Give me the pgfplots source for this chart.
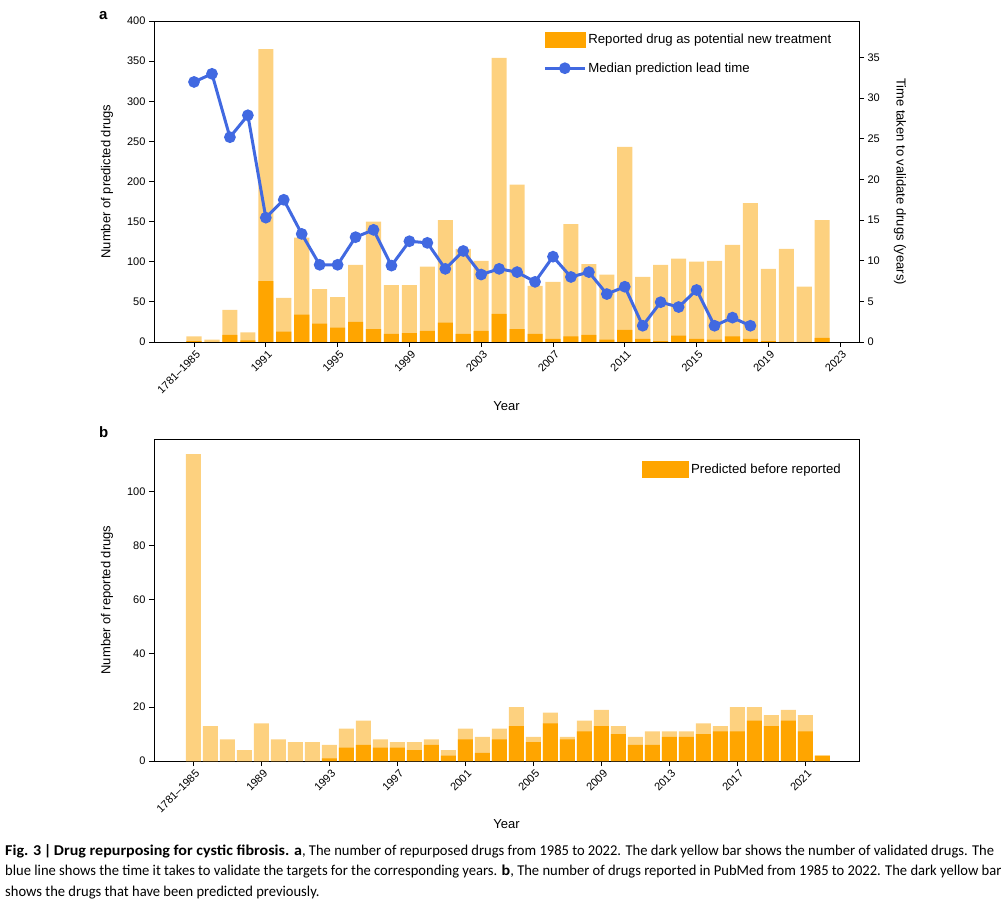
\documentclass[border=0pt]{standalone}
\usepackage{fontspec}
\setmainfont{Liberation Sans}
\newfontfamily\capfont[FakeStretch=0.97, BoldFeatures={FakeStretch=1.07}]{Carlito}
\usepackage{pgfplots}
\usepackage{pgfplotstable}
\pgfplotsset{compat=1.18}

\definecolor{darkbar}{RGB}{255,165,0}
\definecolor{lightbar}{RGB}{253,209,127}
\definecolor{leadblue}{RGB}{65,105,225}

% panel a: predicted drugs per year (total) and validated ones
\pgfplotstableread{
i total valid
0 7 1
1 3 0
2 40 9
3 12 2
4 365 76
5 55 13
6 130 34
7 66 23
8 56 18
9 96 25
10 150 16
11 71 10
12 71 11
13 94 14
14 152 24
15 116 10
16 101 14
17 354 35
18 196 16
19 70 10
20 75 4
21 147 7
22 97 9
23 84 3
24 243 15
25 81 4
26 96 1
27 104 8
28 100 4
29 101 3
30 121 7
31 173 4
32 91 1
33 116 0
34 69 0
35 152 5
}\panelA

% panel a: median prediction lead time (years)
\pgfplotstableread{
i lead
0 32.0
1 33.0
2 25.2
3 27.9
4 15.3
5 17.5
6 13.3
7 9.5
8 9.5
9 12.9
10 13.8
11 9.4
12 12.4
13 12.2
14 9.0
15 11.2
16 8.3
17 9.0
18 8.6
19 7.4
20 10.5
21 8.0
22 8.6
23 5.9
24 6.8
25 2.0
26 4.9
27 4.3
28 6.4
29 2.0
30 3.0
31 2.0
}\panelAline

% panel b: reported drugs and those predicted before
\pgfplotstableread{
i total pred
0 114 0
1 13 0
2 8 0
3 4 0
4 14 0
5 8 0
6 7 0
7 7 0
8 6 1
9 12 5
10 15 6
11 8 5
12 7 5
13 7 4
14 8 6
15 4 2
16 12 8
17 9 3
18 12 8
19 20 13
20 9 7
21 18 14
22 9 8
23 15 11
24 19 13
25 13 10
26 9 6
27 11 6
28 11 9
29 11 9
30 14 10
31 13 11
32 20 11
33 20 15
34 17 13
35 19 15
36 17 11
37 2 2
}\panelB

\pgfplotsset{
  panel/.style={
    scale only axis, width=705pt,
    axis line style={line width=0.9pt},
    tick style={black, line width=0.9pt},
    major tick length=5pt, tick align=outside,
    xtick pos=left, ytick pos=left,
    /pgf/number format/assume math mode=true,
    tick label style={font=\fontsize{11}{13}\selectfont},
    label style={font=\fontsize{13}{15}\selectfont},
    ymin=0, xtick={0,4,...,36},
    xticklabel style={rotate=45, anchor=north east, inner sep=1pt, yshift=-2pt},
  },
}

\begin{document}
\begin{tikzpicture}[x=1pt,y=1pt]
\path[use as bounding box] (0,0) rectangle (1002,903);

% ---- panel a ----
\begin{axis}[panel, height=321pt, at={(154pt,561pt)}, anchor=south west,
    xmin=-2.23, xmax=37.05, ymax=400, ytick={0,50,...,400},
    xticklabels={1781–1985,1991,1995,1999,2003,2007,2011,2015,2019,2023},
    xlabel={Year}, ylabel={Number of predicted drugs},
    xlabel style={at={(axis description cs:0.5,-0.2)}, anchor=center},
    ylabel style={at={(axis description cs:-0.0667,0.5)}, anchor=center}]
\addplot[ybar, bar width=0.84, bar shift=0pt, fill=lightbar, draw=none] table[x=i,y=total]{\panelA};
\addplot[ybar, bar width=0.84, bar shift=0pt, fill=darkbar, draw=none] table[x=i,y=valid]{\panelA};
\end{axis}

\begin{axis}[scale only axis, width=705pt, height=321pt, at={(154pt,561pt)}, anchor=south west,
    xmin=-2.23, xmax=37.05, ymin=0, ymax=39.5,
    axis x line=none, axis y line*=right,
    axis line style={line width=0.9pt, -},
    tick style={black, line width=0.9pt}, major tick length=5pt, tick align=outside,
    ytick={0,5,...,35},
    /pgf/number format/assume math mode=true,
    tick label style={font=\fontsize{11}{13}\selectfont},
    ylabel={Time taken to validate drugs (years)},
    ylabel style={font=\fontsize{13}{15}\selectfont, at={(axis description cs:1.058,0.5)}, anchor=center, rotate=180},
    legend style={draw=none, fill=none, at={(axis description cs:0.552,0.967)}, anchor=north west,
      font=\fontsize{13.2}{15}\selectfont, inner sep=0pt, row sep=13.5pt,
      /tikz/every even column/.append style={column sep=5pt}},
    legend cell align=left]
\addlegendimage{area legend, legend image code/.code={\fill[darkbar] (0pt,-7.5pt) rectangle (40pt,7.5pt);}}
\addlegendentry{Reported drug as potential new treatment}
\addplot[leadblue, line width=3pt, mark=*, mark size=4.3pt,
    legend image code/.code={\draw[leadblue, line width=3pt] (0pt,0pt)--(40pt,0pt); \fill[leadblue] (20pt,0pt) circle (4.3pt);}]
    table[x=i,y=lead]{\panelAline};
\addlegendentry{Median prediction lead time}
\end{axis}

\node[font=\bfseries\fontsize{15}{15}\selectfont, anchor=base west, inner sep=0pt] at (99,883) {a};

% ---- panel b ----
\begin{axis}[panel, height=322pt, at={(154pt,142pt)}, anchor=south west,
    xmin=-2.31, xmax=39.16, ymax=119.6, ytick={0,20,...,100},
    xticklabels={1781–1985,1989,1993,1997,2001,2005,2009,2013,2017,2021},
    xlabel={Year}, ylabel={Number of reported drugs},
    xlabel style={at={(axis description cs:0.5,-0.196)}, anchor=center},
    ylabel style={at={(axis description cs:-0.0667,0.5)}, anchor=center},
    legend style={draw=none, fill=none, at={(axis description cs:0.692,0.906)}, anchor=west,
      font=\fontsize{13.2}{15}\selectfont, inner sep=0pt,
      /tikz/every even column/.append style={column sep=6pt}},
    legend cell align=left]
\addplot[ybar, bar width=0.88, bar shift=0pt, fill=lightbar, draw=none, forget plot] table[x=i,y=total]{\panelB};
\addplot[ybar, bar width=0.88, bar shift=0pt, fill=darkbar, draw=none,
    legend image code/.code={\fill[darkbar] (0pt,-8.5pt) rectangle (47pt,8.5pt);}] table[x=i,y=pred]{\panelB};
\addlegendentry{Predicted before reported}
\end{axis}

\node[font=\bfseries\fontsize{15}{15}\selectfont, anchor=base west, inner sep=0pt] at (99,465) {b};

% ---- caption ----
\node[anchor=west, align=left, inner sep=0pt, font=\capfont\fontsize{15}{20.5}\selectfont] at (5,31.5) {%
\textbf{Fig. 3\,|\,Drug repurposing for cystic fibrosis. a}, The number of repurposed drugs from 1985 to 2022. The dark yellow bar shows the number of validated drugs. The\\
blue line shows the time it takes to validate the targets for the corresponding years. \textbf{b}, The number of drugs reported in PubMed from 1985 to 2022. The dark yellow bar\\
shows the drugs that have been predicted previously.};
\end{tikzpicture}
\end{document}
